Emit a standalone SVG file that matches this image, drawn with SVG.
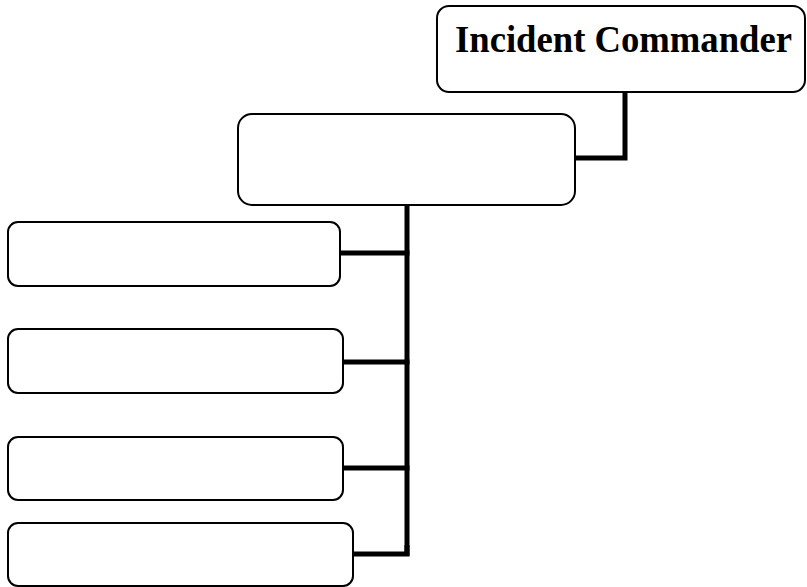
<svg xmlns="http://www.w3.org/2000/svg" width="807" height="587" viewBox="0 0 807 587">
  <style>
    .box { fill: #ffffff; stroke: #000000; stroke-width: 2; }
    .wire { fill: none; stroke: #000000; stroke-width: 5; stroke-linejoin: miter; stroke-linecap: butt; }
    .title { font-family: "Liberation Serif", "Times New Roman", serif; font-weight: bold; font-size: 38px; fill: #000000; }
  </style>
  <rect width="807" height="587" fill="#ffffff"/>

  <!-- connectors -->
  <g id="connectors">
    <polyline class="wire" points="625,92 625,158 576,158"/>
    <line class="wire" x1="407" y1="205" x2="407" y2="556"/>
    <line class="wire" x1="340" y1="253" x2="409.5" y2="253"/>
    <line class="wire" x1="343" y1="362" x2="409.5" y2="362"/>
    <line class="wire" x1="343" y1="468" x2="409.5" y2="468"/>
    <polyline class="wire" points="353,554 407,554 407,545"/>
  </g>

  <!-- top node -->
  <g id="incident-commander">
    <rect class="box" x="437" y="6" width="368" height="86" rx="12" ry="12"/>
    <text class="title" x="455" y="52" textLength="337" lengthAdjust="spacingAndGlyphs">Incident Commander</text>
  </g>

  <!-- second tier -->
  <g id="deputy">
    <rect class="box" x="238" y="114" width="337" height="91" rx="14" ry="14"/>
  </g>

  <!-- third tier -->
  <g id="section-1">
    <rect class="box" x="8" y="222" width="332" height="64" rx="10" ry="10"/>
  </g>
  <g id="section-2">
    <rect class="box" x="8" y="329" width="335" height="64" rx="10" ry="10"/>
  </g>
  <g id="section-3">
    <rect class="box" x="8" y="437" width="335" height="63" rx="10" ry="10"/>
  </g>
  <g id="section-4">
    <rect class="box" x="8" y="523" width="345" height="63" rx="10" ry="10"/>
  </g>
</svg>
